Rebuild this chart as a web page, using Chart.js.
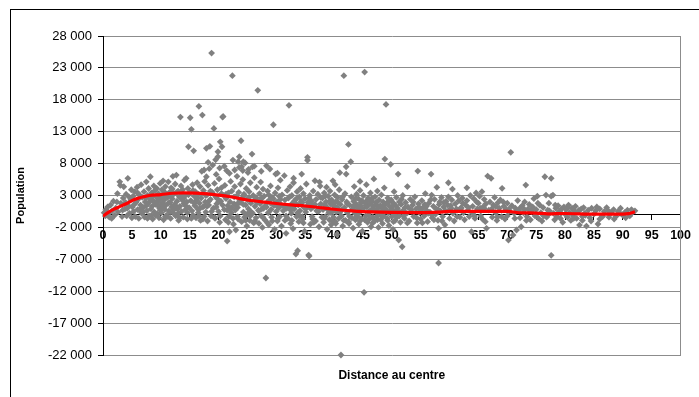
<!DOCTYPE html>
<html><head><meta charset="utf-8">
<script src="https://cdn.jsdelivr.net/npm/chart.js@4.4.0/dist/chart.umd.min.js"></script>
<style>
html,body{margin:0;padding:0;background:#fff;overflow:hidden;}
#wrap{position:relative;width:699px;height:397px;overflow:hidden;}
canvas{position:absolute;left:0;top:0;}
#frame{position:absolute;left:10px;top:9px;width:800px;height:500px;border-left:1px solid #000;border-top:1px solid #000;pointer-events:none;}
</style></head><body>
<div id="wrap"><canvas id="c" width="699" height="397"></canvas><div id="frame"></div></div>
<script>
const xTicks = [0,5,10,15,20,25,30,35,40,45,50,55,60,65,70,75,80,85,90,95,100];
const yTicks = [-22000,-17000,-12000,-7000,-2000,3000,8000,13000,18000,23000,28000];

const trendDistance   = [0,1,2,3,4,5,6,7,8,10,12,14,16,18,20,22,25,28,30,33,35,38,40,43,45,48,50,55,58,60,65,70,72,75,77,80,85,90,91,92.1];
const trendPopulation = [-250,400,900,1300,1700,2200,2550,2800,3000,3150,3350,3420,3380,3250,3050,2800,2300,1950,1750,1500,1350,1050,850,600,480,380,350,330,400,500,520,520,300,250,120,180,80,80,150,450];

// [distance, population]
const communes = [
[0.2,300],[0.4,-200],[0.5,800],[0.8,1200],[1.0,200],[1.1,-400],[1.3,1500],[1.6,600],[1.8,2100],[2.0,-100],[2.2,1000],[2.5,3300],[2.6,400],[2.9,5150],[3.1,1800],[3.3,-300],[3.5,2600],[3.6,4370],[3.8,900],[4.0,3200],[4.3,5690],[4.4,1400],[4.6,200],[4.8,2300],[4.9,3900],[5.0,-500],[3.0,4600],[2.4,2000],[1.5,-600],[4.1,-200],
[5.1,1200],[5.2,2900],[5.3,500],[5.5,3590],[5.6,-300],[5.7,1900],[5.9,4300],[6.0,800],[6.1,2400],[6.2,-600],[6.3,3100],[6.5,1500],[6.6,4700],[6.7,200],[6.8,2700],[7.0,1100],[7.1,3600],[7.2,-400],[7.3,2000],[7.5,5150],[7.6,600],[7.7,3000],[7.8,1700],[7.9,4100],[8.0,-200],[8.1,2500],[8.2,5940],[8.3,900],[8.4,3400],[8.5,1300],[8.6,-700],[8.7,2200],[8.8,4500],[8.9,400],[9.0,3800],[9.1,1600],[9.2,2800],[9.3,4120],[9.4,100],[9.5,2100],[9.6,3300],[9.7,-500],[9.8,1000],[9.9,4900],[10.0,2600],[5.8,2200],[6.4,600],[7.4,2600],[8.4,-100],[9.5,1400],
[10.1,300],[10.2,3900],[10.3,1800],[10.4,5300],[10.5,-800],[10.6,2300],[10.7,800],[10.8,4400],[10.9,1500],[11.0,3100],[11.1,-300],[11.2,2700],[11.3,5150],[11.4,600],[11.5,3500],[11.6,1900],[11.7,-600],[11.8,4200],[11.9,1200],[12.0,2500],[12.1,6000],[12.2,200],[12.3,3300],[12.4,1600],[12.5,4800],[12.6,-200],[12.7,6200],[12.8,2100],[12.9,900],[13.0,3700],[13.1,-900],[13.2,2800],[13.3,1300],[13.4,15290],[13.5,4500],[13.6,500],[13.7,2400],[13.8,3900],[13.9,-400],[14.0,1700],[14.1,5400],[14.2,3000],[14.3,800],[14.4,5690],[14.5,2000],[14.6,-700],[14.7,4100],[14.8,10640],[14.9,1100],[15.0,3400],[15.1,15190],[15.2,2200],[15.3,13370],[15.4,600],[15.5,4700],[15.6,-100],[15.7,10010],[15.8,2900],[15.9,1400],[10.5,1200],[11.0,-100],[12.0,4000],[13.0,200],[14.0,2600],
[16.0,3600],[16.1,-500],[16.2,2300],[16.3,5000],[16.4,900],[16.5,3200],[16.6,16970],[16.7,1800],[16.8,4400],[16.9,-900],[17.0,2600],[17.1,6800],[17.2,15600],[17.3,1200],[17.4,3800],[17.5,-300],[17.6,5200],[17.7,2000],[17.8,400],[17.9,10390],[17.9,5940],[18.0,3100],[18.1,-1000],[18.2,4600],[18.3,1500],[18.4,7200],[18.5,10700],[18.6,2400],[18.7,-200],[18.8,25320],[18.9,3500],[19.0,7770],[19.1,1000],[19.2,13520],[19.3,4900],[19.4,-600],[19.5,2800],[19.6,6300],[19.7,1700],[19.8,3900],[19.9,9860],[19.9,9070],[20.0,500],[20.1,5600],[20.2,-1200],[20.3,11420],[20.4,2100],[20.5,4200],[20.6,10640],[20.7,15290],[20.8,15400],[20.9,3000],[20.0,2000],[18.0,1300],[16.5,300],
[17.5,7000],[18.2,8200],[19.5,8600],[21.0,7600],[22.8,7000],[23.4,8300],[24.2,6900],[20.2,7300],[23.6,9070],[24.0,7510],[24.3,8300],[25.2,7100],[26.2,7600],[27.4,6800],[30.2,6500],[33.0,5700],[37.5,5100],[40.2,4700],[44.5,5200],[52.7,4400],[60.5,4000],[63.0,4200],
[21.0,800],[21.1,4600],[21.2,-800],[21.3,2500],[21.4,6900],[21.5,-4140],[21.6,1400],[21.7,3400],[21.8,-300],[21.9,6470],[21.9,-2680],[22.0,2000],[22.1,5200],[22.2,300],[22.3,3700],[22.4,21780],[22.5,8550],[22.6,-1500],[22.7,1700],[22.8,4400],[22.9,700],[23.0,-2410],[23.1,2900],[23.2,6000],[23.3,1100],[23.4,-700],[23.5,3500],[23.6,7400],[23.7,1900],[23.8,4800],[23.9,11580],[24.0,-1100],[24.1,2600],[24.2,5500],[24.3,400],[24.4,3200],[24.5,-400],[24.6,8100],[24.7,1500],[24.8,4100],[24.9,-1800],[25.0,2300],[25.1,6600],[25.2,900],[25.3,3600],[25.4,-900],[25.5,5000],[25.6,1800],[25.8,9500],[25.9,7500],[25.9,200],[22.0,900],[23.0,1500],[24.0,2400],[25.0,100],
[26.0,3000],[26.1,-1300],[26.2,5800],[26.3,1300],[26.4,2400],[26.5,-500],[26.6,4300],[26.8,19480],[26.9,700],[27.0,-1370],[27.1,3300],[27.2,1700],[27.3,5100],[27.4,-200],[27.5,2600],[27.6,-2000],[27.7,4000],[27.8,1000],[27.9,2900],[28.0,-800],[28.2,-9930],[28.3,7660],[28.4,1900],[28.5,3700],[28.6,300],[28.7,-1600],[28.8,2300],[28.9,7150],[29.0,4500],[29.1,800],[29.2,-400],[29.3,2700],[29.5,14090],[29.6,1400],[29.7,-2300],[29.8,3400],[29.9,6360],[30.0,500],[30.1,2000],[30.2,-1000],[30.3,4200],[30.4,1100],[30.5,2900],[30.6,-300],[30.7,5400],[30.8,1600],[30.9,-1800],[31.0,3100],[31.2,600],[31.4,6100],[31.5,2300],[31.7,-2930],[31.8,1000],[31.9,3800],[27.0,600],[28.0,1300],[29.0,1800],[30.0,1500],
[32.0,-600],[32.1,2600],[32.2,17130],[32.3,1300],[32.4,4400],[32.5,-1400],[32.6,200],[32.7,3000],[32.8,1800],[32.9,-2200],[33.0,5000],[33.1,900],[33.2,2200],[33.4,-6170],[33.5,-300],[33.6,3600],[33.7,-5660],[33.8,1500],[33.9,-1100],[34.0,2800],[34.1,600],[34.2,4100],[34.4,6360],[34.5,1900],[34.6,-700],[34.7,3300],[34.8,1100],[34.9,-2600],[35.0,2500],[35.1,400],[35.2,4800],[35.4,8980],[35.4,8510],[35.5,1500],[35.6,-6330],[35.7,-6490],[35.8,3000],[35.9,-1500],[36.0,900],[36.1,2100],[36.2,-300],[36.4,3700],[36.5,1300],[36.7,5310],[36.8,-1000],[36.9,2400],[37.0,600],[37.2,3200],[37.4,-1900],[37.6,4480],[37.7,1700],[37.9,-400],[33.0,1000],[34.0,-200],[36.0,1800],
[38.0,2600],[38.1,800],[38.2,-1200],[38.3,3400],[38.4,1500],[38.5,-300],[38.6,2000],[38.7,4300],[38.8,-2300],[38.9,1000],[39.0,2900],[39.1,300],[39.2,-800],[39.3,3700],[39.4,1700],[39.5,-1600],[39.6,2300],[39.7,600],[39.8,5300],[39.9,-400],[40.0,1300],[40.1,3100],[40.2,-1100],[40.3,2000],[40.4,400],[40.5,-3100],[40.6,2700],[40.7,900],[40.8,-600],[40.9,3900],[41.0,6570],[41.1,1600],[41.2,-22000],[41.3,-200],[41.4,2400],[41.5,-1800],[41.7,21780],[41.8,1100],[41.9,3300],[42.0,-900],[42.1,7510],[42.1,6360],[42.2,2000],[42.3,300],[42.5,11010],[42.6,-1400],[42.7,1500],[42.9,8290],[43.0,2800],[43.1,-500],[39.0,700],[40.0,1800],[41.0,400],
[43.2,900],[43.3,-2100],[43.4,2100],[43.5,4400],[43.6,200],[43.7,-800],[43.8,1600],[43.9,3200],[44.0,-300],[44.1,1100],[44.2,2500],[44.3,-1500],[44.4,600],[44.5,3800],[44.6,1400],[44.7,-600],[44.8,2200],[44.9,-2600],[45.0,900],[45.1,3000],[45.2,-12180],[45.3,22350],[45.4,1800],[45.5,-200],[45.6,4700],[45.7,1200],[45.8,-1200],[45.9,2600],[46.0,400],[46.1,-700],[46.2,1700],[46.3,3400],[46.4,-1900],[46.5,800],[46.6,2100],[46.7,-400],[46.8,1300],[46.9,5600],[47.0,-1000],[47.1,2800],[47.2,500],[47.3,1600],[47.4,-300],[47.5,3700],[47.6,1000],[47.7,-2000],[47.8,2300],[47.9,200],[44.0,1500],[46.0,-100],[47.0,800],
[48.0,1400],[48.1,-800],[48.2,3100],[48.3,600],[48.4,-1400],[48.5,2000],[48.6,-200],[48.7,4200],[48.8,8710],[48.9,900],[49.0,17280],[49.1,1800],[49.2,-600],[49.3,2600],[49.4,300],[49.5,-1700],[49.6,1300],[49.8,7880],[49.9,2300],[50.0,-300],[50.1,800],[50.2,-2300],[50.3,1800],[50.4,3600],[50.5,100],[50.6,-900],[50.7,1400],[50.8,2700],[50.9,-400],[51.0,1000],[51.1,6360],[51.2,-3980],[51.3,2000],[51.4,400],[51.5,-1200],[51.6,1600],[51.8,-5030],[51.9,3000],[52.0,700],[52.2,-600],[52.4,1900],[52.6,200],[52.8,1200],[53.0,-1000],[53.2,2400],[49.0,600],[50.0,1200],[52.0,-200],
[53.4,500],[53.6,1500],[53.8,-300],[54.0,2800],[54.2,900],[54.4,-1300],[54.5,6830],[54.6,1700],[54.8,300],[55.0,-700],[55.2,2200],[55.4,1100],[55.6,-200],[55.8,3300],[56.0,700],[56.2,-1100],[56.4,1800],[56.6,400],[56.8,6360],[56.9,3070],[57.0,-500],[57.2,1300],[57.4,2400],[57.6,100],[57.8,4280],[58.0,-900],[58.1,-2150],[58.1,-7580],[58.2,1600],[58.4,600],[58.6,2700],[58.8,-300],[59.0,1200],[59.2,-1600],[59.4,2100],[59.6,500],[59.8,5000],[59.8,2800],[60.0,-600],[60.2,1400],[60.4,2300],[60.6,200],[60.8,-1000],[61.0,1700],[61.2,900],[61.4,3000],[61.6,2180],[61.8,-400],[62.0,1100],[55.0,600],[56.0,1300],[57.0,-100],[58.0,800],[59.0,1900],[60.0,700],
[62.2,2600],[62.4,300],[62.6,-800],[62.8,1500],[63.0,2200],[63.2,700],[63.4,-300],[63.6,3000],[63.8,-2680],[64.0,1300],[64.2,2500],[64.4,-600],[64.6,3400],[64.8,900],[65.0,1800],[65.2,2900],[65.4,-200],[65.6,3600],[65.8,1200],[66.0,2400],[66.2,-1100],[66.4,-2150],[66.6,6050],[66.8,700],[67.0,2000],[67.2,5690],[67.4,-400],[67.6,1500],[67.8,2700],[68.0,300],[68.2,-900],[68.4,1900],[68.6,1000],[68.8,2300],[69.0,-300],[69.1,4120],[69.4,1300],[69.6,-700],[69.8,800],[70.0,1800],[70.2,-3980],[70.4,500],[70.6,9760],[70.8,1400],[71.0,-3200],[71.2,200],[71.4,1000],[71.6,-2410],[71.8,2200],[62.0,1000],[64.0,200],[66.0,1000],[68.0,1300],[70.0,-200],
[72.0,700],[72.2,-500],[72.4,-1900],[72.6,1400],[72.8,300],[73.0,2000],[73.2,4640],[73.4,-300],[73.6,900],[73.8,1600],[74.0,-800],[74.2,500],[74.4,1200],[74.6,2500],[74.8,-200],[75.0,800],[75.2,2900],[75.4,-600],[75.6,1500],[75.8,300],[76.0,-1000],[76.2,1100],[76.5,5940],[76.7,3070],[76.8,-400],[77.0,700],[77.2,1800],[77.6,2900],[77.6,-6380],[77.6,5690],[77.9,3070],[78.0,200],[78.2,-800],[78.4,1000],[78.6,-300],[78.8,1400],[79.0,500],[79.2,-600],[79.4,900],[79.6,-1200],[79.8,1200],[80.0,100],[73.0,800],[75.0,100],[77.0,-100],
[80.2,800],[80.4,-400],[80.6,1500],[80.8,300],[81.0,-900],[81.2,1000],[81.4,-200],[81.6,600],[81.8,1300],[82.0,-600],[82.2,400],[82.5,-1630],[82.8,900],[83.0,-300],[83.2,1100],[83.4,200],[83.7,-1790],[84.0,700],[84.3,-500],[84.6,1000],[85.0,100],[85.3,600],[85.7,-1470],[86.0,900],[86.4,-200],[86.8,500],[87.2,1100],[87.6,-400],[88.0,300],[88.4,800],[88.8,-300],[89.2,500],[89.6,1000],[90.0,-100],[90.4,400],[90.8,700],[91.2,-200],[91.6,300],[92.1,600],[83.0,-900],[86.0,-700]
];

// further points of the dense band near the axis
const communesBand = [
[3.4,700],[3.9,1900],[4.5,2800],[5.4,1600],[6.0,3400],[6.9,400],[7.5,1400],[8.0,2000],[8.6,2900],[9.1,-100],[9.7,2300],[10.1,1600],[4.2,1000],[5.0,2500],[6.6,1000],[7.7,-600],[8.9,1900],[9.9,700],
[10.3,2800],[10.8,-300],[11.3,1800],[11.8,2900],[12.3,800],[12.8,3500],[13.3,-500],[13.8,2200],[14.3,1400],[14.8,3100],[15.3,-600],[15.8,1800],[16.3,2700],[16.8,1000],[17.3,-700],[17.8,3000],[18.3,2100],[18.8,500],[19.3,-400],[19.8,2500],[10.6,3600],[11.6,400],[12.6,1300],[13.6,2900],[14.6,300],[15.6,3800],[16.6,-200],[17.6,1400],[18.6,3700],[19.6,1200],
[20.3,-200],[20.7,1500],[21.3,3200],[21.7,-1200],[22.3,1100],[22.7,2800],[23.3,-300],[23.7,2200],[24.3,1600],[24.7,-900],[25.3,2700],[25.7,400],[26.3,-1000],[26.7,1900],[27.3,2400],[27.7,-400],[28.3,1200],[28.7,3100],[29.3,-1000],[29.7,1700],[20.5,3300],[21.5,700],[22.5,-600],[23.5,1900],[24.5,3000],[25.5,-200],[26.5,2700],[27.5,900],[28.5,-1300],[29.5,2500],
[30.3,-600],[30.7,2400],[31.3,1300],[31.7,-200],[32.3,2800],[32.7,-900],[33.3,1800],[33.7,300],[34.3,2100],[34.7,-1300],[35.3,1100],[35.7,2600],[36.3,-700],[36.7,1600],[37.3,500],[37.7,2700],[38.3,-600],[38.7,1200],[39.3,2200],[39.7,-1000],[30.5,1100],[31.5,-900],[32.5,700],[33.5,2500],[34.5,-300],[35.5,1900],[36.5,-1200],[37.5,1200],[38.5,2900],[39.5,300],
[40.3,-1400],[40.7,1900],[41.3,700],[41.7,-900],[42.3,1700],[42.7,-300],[43.3,1300],[43.7,2500],[44.3,200],[44.7,1900],[45.3,-800],[45.7,2200],[46.3,600],[46.7,-1300],[47.3,1900],[47.7,400],[48.3,-300],[48.7,1500],[49.3,-900],[49.7,600],[40.5,1100],[41.5,2800],[42.5,-1100],[43.5,700],[44.5,-1000],[45.5,1400],[46.5,2500],[47.5,-800],[48.5,1000],[49.5,2000],
[50.3,-1100],[50.7,600],[51.3,-200],[51.7,2400],[52.3,1100],[52.7,-1300],[53.3,800],[53.7,2000],[54.3,-500],[54.7,1200],[55.3,-1300],[55.7,1600],[56.3,200],[56.7,2300],[57.3,-800],[57.7,900],[58.3,2000],[58.7,-1000],[59.3,600],[59.7,1500],
[60.3,1000],[61.3,-300],[62.3,1800],[63.3,1100],[64.3,-200],[64.7,2000],[65.3,1000],[65.7,-700],[66.3,1700],[67.3,900],[68.3,-400],[69.3,2000],[70.3,900],[71.3,-600],[72.3,1100],[73.3,-900],[74.3,800],[75.3,1800],[76.3,-200],[77.3,600],[78.3,1500],[79.3,200],
[80.5,1100],[81.5,-600],[82.4,700],[83.5,-100],[84.5,-1000],[85.5,1200],[86.5,-300],[87.5,600],[88.5,-700],[89.5,200],[90.5,-500],[91.5,800]
];

const FONT = "'Liberation Sans', Arial, sans-serif";
function fmtThousands(v){
  const s = Math.abs(Math.round(v)).toString().replace(/\B(?=(\d{3})+(?!\d))/g, ' ');
  return (v < 0 ? '-' : '') + s;
}

new Chart(document.getElementById('c'), {
  type: 'scatter',
  data: {
    datasets: [
      {
        type: 'line',
        label: 'Tendance',
        data: trendDistance.map((d, i) => ({x: d, y: trendPopulation[i]})),
        borderColor: '#ff0000',
        borderWidth: 3.2,
        pointRadius: 0,
        tension: 0.4,
        cubicInterpolationMode: 'monotone',
        fill: false,
        order: 0
      },
      {
        label: 'Population',
        data: communes.concat(communesBand).map(p => ({x: p[0], y: p[1]})),
        backgroundColor: '#808080',
        borderWidth: 0,
        pointStyle: 'rectRot',
        pointRadius: 3.4,
        clip: 5,
        order: 1
      }
    ]
  },
  options: {
    responsive: false,
    animation: false,
    events: [],
    layout: { padding: { left: 12, top: 36, right: 16, bottom: 13.8 } },
    plugins: { legend: { display: false }, tooltip: { enabled: false } },
    scales: {
      x: {
        type: 'linear',
        position: { y: 0 },
        min: 0, max: 100,
        afterBuildTicks: s => { s.ticks = xTicks.map(v => ({value: v})); },
        ticks: { autoSkip: false, maxRotation: 0, padding: 8, color: '#000', font: { family: FONT, size: 12.5, weight: 'bold' } },
        grid: { drawOnChartArea: false, tickLength: 5, tickColor: '#000' },
        border: { color: '#000', width: 1 }
      },
      x2: {
        type: 'linear',
        position: 'bottom',
        min: 0, max: 100,
        ticks: { display: false },
        grid: { display: false, drawTicks: false },
        border: { display: false },
        title: { display: true, text: 'Distance au centre', color: '#000', font: { family: FONT, size: 12, weight: 'bold' }, padding: { top: 13.8, bottom: 0 } }
      },
      y: {
        type: 'linear',
        min: -22000, max: 28000,
        afterBuildTicks: s => { s.ticks = yTicks.map(v => ({value: v})); },
        afterFit: s => { s.width = 91; },
        ticks: { padding: 6, color: '#000', font: { family: FONT, size: 13 }, callback: v => fmtThousands(v) },
        grid: { color: '#8c8c8c', tickLength: 5, tickColor: '#000' },
        border: { color: '#000', width: 1 },
        title: { display: true, text: 'Population', color: '#000', font: { family: FONT, size: 11, weight: 'bold' }, padding: { top: 2.4, bottom: 0 } }
      },
      y2: {
        type: 'linear',
        position: 'right',
        min: -22000, max: 28000,
        ticks: { display: false },
        grid: { display: true, drawOnChartArea: false, drawTicks: false },
        border: { color: '#8c8c8c', width: 1 }
      }
    }
  }
});
</script>
</body></html>
